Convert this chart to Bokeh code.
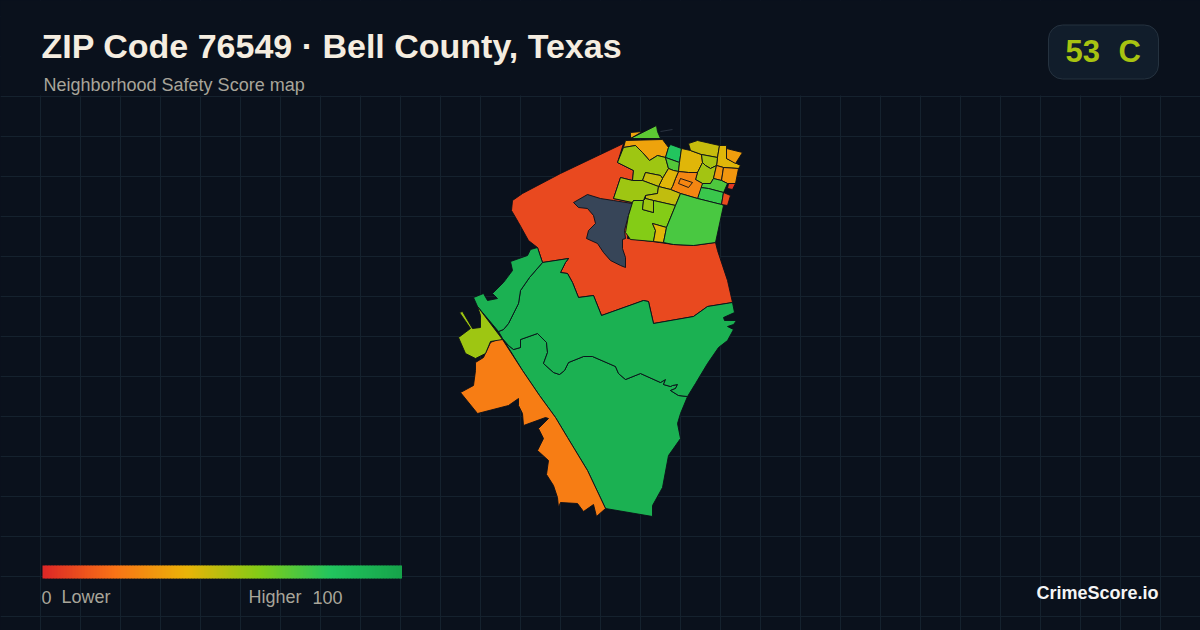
from bokeh.plotting import figure
from bokeh.models import ColumnDataSource, Grid, FixedTicker
from bokeh.core.properties import value
from bokeh.embed import file_html
from bokeh.resources import INLINE

W, H = 1200, 630
BG = "#0a111c"
GRID = "#15222e"
OUTLINE = "#0a0f18"
CREAM = "#f5ede0"
MUTED = "#a8a59a"
FONT = "Liberation Sans"

SCALE_STOPS = [0, 20, 40, 60, 80, 100]
SCALE_COLORS = ["#dc2626", "#f97316", "#eab308", "#84cc16", "#22c55e", "#16a34a"]
NO_DATA = "#374558"

TITLE = "ZIP Code 76549 · Bell County, Texas"
SUBTITLE = "Neighborhood Safety Score map"
SCORE = "53"
GRADE = "C"
BRAND = "CrimeScore.io"

# Shared borders between the southern tracts
DIAGONAL = [(477, 306), (502, 339), (522, 370), (539, 395), (555, 417), (567, 437), (587, 470), (605, 508)]
NW_BORDER = [(542, 262), (529, 277), (520, 290), (518, 303), (508, 323), (503, 329), (498, 331)]
MID_SOUTH_BORDER = [(498, 331), (502, 338), (508, 345), (513, 349), (520, 347), (520, 339), (537, 333), (546, 342),
                    (547, 352), (543, 363), (553, 372), (559, 374), (564, 370), (568, 362), (583, 356), (592, 356),
                    (615, 366), (618, 373), (625, 379), (640, 373), (660, 382), (665, 379), (663, 384), (670, 386),
                    (672, 385), (677, 384), (675, 388), (670, 390), (678, 395), (687, 396)]
NORTH_GREEN_TOP = [(542, 262), (568, 258), (565, 262), (560, 272), (567, 273), (572, 282), (578, 297), (593, 295),
                   (601, 315), (643, 300), (648, 301), (653, 323), (693, 316), (707, 306), (732, 302)]
EAST_EDGE = [(734, 312), (723, 317), (724, 320), (736, 320), (733, 324), (727, 326), (733, 329), (727, 340),
             (718, 347), (707, 363), (695, 383)]

RED_TRACT = [(623, 143), (560, 173), (522, 193), (512, 200), (511, 210), (518, 222), (528, 240), (537, 247),
             *NORTH_GREEN_TOP, (727, 280), (717, 250), (715, 242), (693, 245), (673, 244), (652, 241), (627, 238),
             (632, 202), (613, 198), (620, 177), (632, 180), (633, 170), (617, 162)]
DARK_TRACT = [(573, 202), (587, 194), (600, 198), (613, 200), (632, 203), (628, 215), (624, 230), (625, 238),
              (622, 239), (622, 248), (625, 257), (625, 267), (620, 265), (610, 260), (603, 252), (597, 243),
              (586, 238), (588, 230), (595, 223), (593, 215), (587, 208), (578, 207)]
NW_GREEN = [(473, 297), (483, 293), (487, 300), (497, 298), (492, 293), (503, 282), (512, 270), (510, 261),
            (527, 255), (530, 249), (537, 247), *NW_BORDER, (477, 306)]
MID_GREEN = [*NORTH_GREEN_TOP, *EAST_EDGE, *MID_SOUTH_BORDER[::-1], *NW_BORDER[::-1][1:]]
SOUTH_GREEN = [*MID_SOUTH_BORDER, (680, 413), (677, 423), (680, 438), (668, 455), (662, 487), (652, 505),
               (652, 516), *DIAGONAL[:1:-1]]
ORANGE_TRACT = [*DIAGONAL[1:], (596, 516), (593, 504), (583, 511), (577, 503), (560, 502), (558, 507),
                (557, 497), (553, 485), (546, 474), (548, 460), (537, 450), (543, 438), (538, 428), (548, 418),
                (545, 417), (523, 425), (522, 413), (518, 405), (518, 398), (508, 405), (477, 413), (460, 392),
                (473, 385), (475, 370), (475, 362), (483, 357), (490, 342), (497, 339)]
LIME_TRACT = [(477, 306), (502, 339), (490, 341), (485, 353), (475, 358), (465, 353), (458, 337), (470, 328),
              (459, 312), (462, 311), (472, 328), (480, 327), (480, 315)]

CLUSTER = [
    (35, [(630, 132), (642, 131), (630, 138)]),
    (68, [(630, 138), (656, 125), (657, 131), (660, 138)]),
    (35, [(623, 147), (625, 140), (662, 139), (668, 147), (665, 157), (657, 155), (649, 160), (642, 152), (635, 145)]),
    (55, [(617, 162), (623, 147), (635, 145), (642, 152), (649, 160), (657, 155), (665, 157), (668, 168), (662, 178),
          (660, 175), (645, 172), (642, 180), (632, 180), (633, 170)]),
    (80, [(668, 147), (670, 144), (681, 148), (679, 162), (665, 157)]),
    (70, [(665, 157), (679, 162), (678, 171), (673, 170), (668, 168)]),
    (42, [(681, 148), (690, 150), (701, 154), (702, 162), (697, 172), (688, 172), (678, 171), (679, 162)]),
    (47, [(688, 143), (697, 140), (719, 145), (717, 157), (701, 154), (690, 150)]),
    (42, [(719, 145), (726, 145), (726, 158), (740, 165), (738, 168), (723, 167), (716, 165), (717, 157)]),
    (33, [(726, 148), (742, 152), (735, 163), (726, 158)]),
    (53, [(701, 154), (717, 157), (716, 165), (710, 168), (705, 165), (702, 162)]),
    (54, [(697, 172), (702, 162), (705, 165), (710, 168), (716, 165), (713, 178), (710, 183), (702, 183), (695, 179)]),
    (31, [(716, 165), (723, 167), (721, 180), (713, 178)]),
    (31, [(723, 167), (738, 168), (735, 183), (727, 183), (721, 180)]),
    (71, [(702, 183), (710, 183), (713, 178), (721, 180), (727, 183), (723, 192), (708, 188), (700, 187)]),
    (5, [(728, 183), (735, 183), (732, 189), (727, 188)]),
    (75, [(700, 187), (708, 188), (723, 192), (721, 204), (697, 198)]),
    (10, [(723, 192), (730, 195), (727, 205), (721, 204)]),
    (26, [(675, 178), (678, 171), (688, 172), (697, 172), (695, 179), (702, 183), (697, 198), (680, 193), (670, 189),
          (672, 186)]),
    (26, [(680, 178), (692, 182), (688, 187), (678, 183)]),
    (42, [(662, 178), (668, 168), (673, 170), (678, 171), (675, 178), (672, 186), (670, 189), (658, 186)]),
    (47, [(645, 172), (660, 175), (662, 178), (658, 186), (642, 180)]),
    (55, [(613, 198), (620, 177), (632, 180), (642, 180), (658, 186), (657, 193), (645, 195), (643, 200), (633, 200),
          (632, 202)]),
    (48, [(645, 195), (657, 193), (658, 186), (670, 189), (680, 193), (675, 205), (653, 200), (645, 198)]),
    (60, [(632, 202), (633, 200), (643, 200), (642, 209), (653, 212), (653, 200), (675, 205), (666, 227), (652, 223),
          (655, 230), (653, 241), (630, 239), (625, 232), (628, 215)]),
    (55, [(643, 200), (645, 198), (653, 200), (653, 212), (642, 209)]),
    (42, [(652, 223), (666, 227), (663, 242), (653, 241), (655, 230)]),
    (72, [(680, 193), (697, 198), (721, 204), (723, 205), (715, 242), (693, 245), (673, 244), (663, 242), (666, 227),
          (675, 205)]),
]

SOUTH = [
    (9, RED_TRACT), (None, DARK_TRACT), (92, SOUTH_GREEN), (92, MID_GREEN), (92, NW_GREEN),
    (23, ORANGE_TRACT), (55, LIME_TRACT),
]
FAINT_SPUR = [(660, 131), (672, 129)]


def ramp(score):
    for i in range(len(SCALE_STOPS) - 1):
        lo, hi = SCALE_STOPS[i], SCALE_STOPS[i + 1]
        if score <= hi:
            t = (score - lo) / (hi - lo)
            a, b = SCALE_COLORS[i], SCALE_COLORS[i + 1]
            ch = [round(int(a[k:k + 2], 16) * (1 - t) + int(b[k:k + 2], 16) * t) for k in (1, 3, 5)]
            return "#%02x%02x%02x" % tuple(ch)
    return SCALE_COLORS[-1]


p = figure(width=W, height=H, x_range=(0, W), y_range=(H, 0), x_axis_type=None, y_axis_type=None,
           toolbar_location=None, output_backend="svg", min_border=0, outline_line_color=None,
           background_fill_color=BG, border_fill_color=BG)
p.grid.visible = False
p.add_layout(Grid(dimension=0, ticker=FixedTicker(ticks=[40 * i for i in range(31)]),
                  grid_line_color=GRID, grid_line_width=1))
p.add_layout(Grid(dimension=1, ticker=FixedTicker(ticks=[16 + 40 * i for i in range(16)]),
                  grid_line_color=GRID, grid_line_width=1))

# Header band hides the grid above it
p.quad(left=[0], right=[W], top=[0], bottom=[95], fill_color=BG, line_color=None)

tracts = SOUTH + CLUSTER
src = ColumnDataSource(dict(
    xs=[[pt[0] for pt in t[1]] for t in tracts],
    ys=[[pt[1] for pt in t[1]] for t in tracts],
    color=[NO_DATA if t[0] is None else ramp(t[0]) for t in tracts],
))
p.patches("xs", "ys", source=src, fill_color="color", line_color=OUTLINE, line_width=0.9, line_join="round")
p.line([pt[0] for pt in FAINT_SPUR], [pt[1] for pt in FAINT_SPUR], line_color="#2a3340", line_width=1)


def label(x, y, s, size, color, bold=False, align="left"):
    # the browser draws this baseline about 0.4em lower than asked
    p.text([x], [y - 0.4 * size], text=[s], text_font=value(FONT), text_font_size=f"{size}px", text_color=color,
           text_font_style="bold" if bold else "normal", text_align=align, text_baseline="alphabetic")


label(41, 59, TITLE, 34, CREAM, bold=True)
label(43, 92, SUBTITLE, 18, MUTED)

# Score badge
p.quad(left=[1048], right=[1158], top=[24.5], bottom=[78.5], fill_color="#111d2b", line_color="#25323f",
       line_width=1, border_radius=14)
badge = ramp(int(SCORE))
label(1065, 63, SCORE, 31, badge, bold=True)
label(1118, 63, GRADE, 31, badge, bold=True)

# Colour scale legend: each step overlaps the next so no seams show
steps = list(range(120))
p.quad(left=[42 + 3 * s for s in steps], right=[min(46 + 3 * s, 401.5) for s in steps],
       top=[565] * 120, bottom=[578] * 120, fill_color=[ramp((s + 0.5) / 1.2) for s in steps], line_color=None)
label(41, 604, "0", 18, MUTED)
label(61, 604, "Lower", 18, MUTED)
label(248, 604, "Higher", 18, MUTED)
label(312, 604, "100", 18, MUTED)
label(1158, 600, BRAND, 18, "#f5f5f5", bold=True, align="right")

html = file_html(p, INLINE)
html = html.replace("<head>", f"<head><style>html,body{{margin:0;padding:0;background:{BG};overflow:hidden}}</style>", 1)
open("out.html", "w").write(html)
